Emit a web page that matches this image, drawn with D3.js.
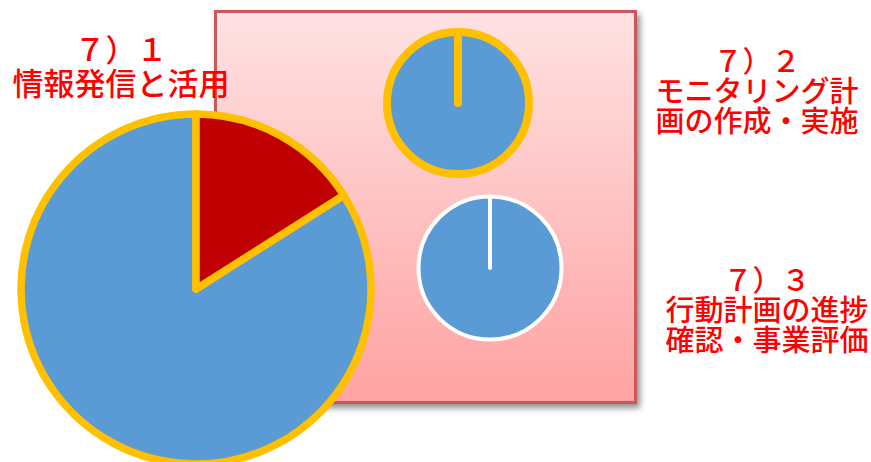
<!DOCTYPE html>
<html>
<head>
<meta charset="utf-8">
<script src="https://cdn.jsdelivr.net/npm/d3@7"></script>
<style>
  body { margin: 0; background: #fff; }
  svg { display: block; }
</style>
</head>
<body>
<script>
// three progress pies: share done (red) vs. not done (blue)
var labels1 = ["７）１", "情報発信と活用"];
var labels2 = ["７）２", "モニタリング計", "画の作成・実施"];
var labels3 = ["７）３", "行動計画の進捗", "確認・事業評価"];
var doneValues   = [16, 0, 0];
var remainValues = [84, 100, 100];

var width = 871, height = 462;

var svg = d3.select("body").append("svg")
    .attr("width", width)
    .attr("height", height);

var defs = svg.append("defs");
var grad = defs.append("linearGradient")
    .attr("id", "bg").attr("x1", 0).attr("y1", 0).attr("x2", 0).attr("y2", 1);
grad.append("stop").attr("offset", "0%").attr("stop-color", "#FFE2E3");
grad.append("stop").attr("offset", "100%").attr("stop-color", "#FFA2A2");

var shadow = defs.append("filter").attr("id", "shadow")
    .attr("x", "-10%").attr("y", "-10%").attr("width", "130%").attr("height", "130%");
shadow.append("feGaussianBlur").attr("in", "SourceAlpha").attr("stdDeviation", 3);
shadow.append("feOffset").attr("dx", 3).attr("dy", 4).attr("result", "off");
shadow.append("feComponentTransfer").append("feFuncA").attr("type", "linear").attr("slope", 0.45);
var merge = shadow.append("feMerge");
merge.append("feMergeNode");
merge.append("feMergeNode").attr("in", "SourceGraphic");

// pink panel behind the two small pies
svg.append("rect")
    .attr("x", 215.5).attr("y", 11.5)
    .attr("width", 420).attr("height", 391)
    .attr("fill", "url(#bg)")
    .attr("stroke", "#C9585A")
    .attr("stroke-width", 3)
    .attr("filter", "url(#shadow)");

var pie = d3.pie().sort(null).value(function(d) { return d.value; });

var pies = [
  { cx: 196, cy: 289, r: 175, stroke: "#FFC000", sw: 7.5, i: 0 },
  { cx: 458, cy: 103, r: 71,  stroke: "#FFC000", sw: 8,   i: 1 },
  { cx: 490, cy: 268, r: 71.5, stroke: "#FFFFFF", sw: 4,  i: 2 }
];

pies.forEach(function(p) {
  var slices = pie([
    { key: "done",   value: doneValues[p.i] },
    { key: "remain", value: remainValues[p.i] }
  ]);
  var arc = d3.arc().innerRadius(0).outerRadius(p.r);
  var g = svg.append("g").attr("transform", "translate(" + p.cx + "," + p.cy + ")");
  // draw the remaining part first so the done slice (even when zero) sits on top
  g.selectAll("path")
    .data(slices.slice().reverse())
    .enter()
    .append("path")
    .attr("d", arc)
    .attr("fill", function(d) { return d.data.key === "done" ? "#C00000" : "#5B9BD5"; })
    .attr("stroke", p.stroke)
    .attr("stroke-width", p.sw)
    .attr("stroke-linejoin", "round");
});

function addLabel(lines, cx, y0, size, lh) {
  lines.forEach(function(s, k) {
    svg.append("text")
      .attr("x", cx).attr("y", y0 + k * lh)
      .attr("text-anchor", "middle")
      .attr("font-family", "'Noto Sans CJK JP', sans-serif")
      .attr("font-weight", 500)
      .attr("font-size", size)
      .attr("fill", "#FF0000")
      .text(s);
  });
}

addLabel(labels1, 121, 61, 31, 34);
addLabel(labels2, 757, 72, 29, 30);
addLabel(labels3, 767, 291, 29, 30);
</script>
</body>
</html>
